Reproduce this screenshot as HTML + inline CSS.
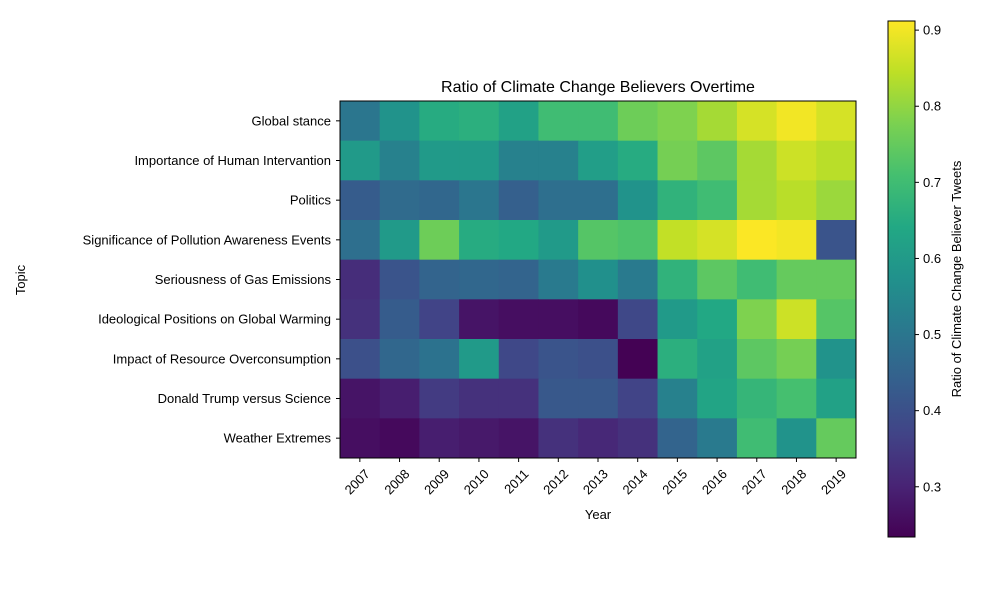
<!DOCTYPE html>
<html><head><meta charset="utf-8"><style>
body{margin:0;background:#fff;font-family:"Liberation Sans","DejaVu Sans",sans-serif;}
svg text{font-family:"Liberation Sans","DejaVu Sans",sans-serif;fill:#000;}
</style></head><body>
<svg id="chart" width="1000" height="600" xmlns="http://www.w3.org/2000/svg">
<defs><linearGradient id="vg" x1="0" y1="1" x2="0" y2="0"></linearGradient></defs>
<text x="598" y="92" font-size="16" text-anchor="middle">Ratio of Climate Change Believers Overtime</text>
<g id="cells"></g>
<rect x="340" y="101" width="516" height="357" fill="none" stroke="#000" stroke-width="1"/>
<g id="xaxis"></g>
<g id="yaxis"></g>
<text x="598" y="519" font-size="13" text-anchor="middle">Year</text>
<text transform="translate(25,280) rotate(-90)" font-size="13" text-anchor="middle">Topic</text>
<rect x="888" y="21" width="27" height="516" fill="url(#vg)" stroke="#000" stroke-width="1"/>
<g id="cbticks"></g>
<text transform="translate(961,279) rotate(-90)" font-size="13" text-anchor="middle">Ratio of Climate Change Believer Tweets</text>
</svg>
<script>
const years=["2007","2008","2009","2010","2011","2012","2013","2014","2015","2016","2017","2018","2019"];
const topics=["Global stance","Importance of Human Intervantion","Politics","Significance of Pollution Awareness Events","Seriousness of Gas Emissions","Ideological Positions on Global Warming","Impact of Resource Overconsumption","Donald Trump versus Science","Weather Extremes"];
const rowGlobal=[0.50,0.58,0.65,0.66,0.62,0.70,0.70,0.76,0.78,0.82,0.87,0.90,0.87];
const rowImportance=[0.60,0.53,0.60,0.60,0.53,0.53,0.61,0.65,0.77,0.74,0.82,0.86,0.84];
const rowPolitics=[0.43,0.47,0.46,0.50,0.44,0.48,0.48,0.58,0.67,0.70,0.82,0.84,0.81];
const rowSignificance=[0.48,0.60,0.76,0.65,0.64,0.60,0.73,0.72,0.85,0.87,0.91,0.90,0.41];
const rowSeriousness=[0.32,0.41,0.45,0.46,0.45,0.51,0.57,0.51,0.67,0.74,0.70,0.75,0.75];
const rowIdeological=[0.33,0.43,0.37,0.27,0.26,0.26,0.25,0.38,0.60,0.64,0.78,0.86,0.73];
const rowImpact=[0.40,0.46,0.49,0.60,0.38,0.41,0.40,0.235,0.66,0.62,0.74,0.77,0.58];
const rowTrump=[0.27,0.29,0.35,0.33,0.33,0.42,0.42,0.37,0.53,0.63,0.68,0.71,0.62];
const rowWeather=[0.26,0.25,0.29,0.28,0.27,0.33,0.31,0.33,0.45,0.51,0.70,0.58,0.75];
const cbTicks=[0.3,0.4,0.5,0.6,0.7,0.8,0.9];
const vmin=0.234,vmax=0.912;
const rows=[rowGlobal,rowImportance,rowPolitics,rowSignificance,rowSeriousness,rowIdeological,rowImpact,rowTrump,rowWeather];
const VIR=["#440154","#482475","#414487","#355f8d","#2a788e","#21918c","#22a884","#44bf70","#7ad151","#bddf26","#fde725"];
const NS="http://www.w3.org/2000/svg";
const X0=340,Y0=101,W=516,H=357;
const cw=W/years.length,ch=H/topics.length;
const xs=i=>X0+i*cw, ys=j=>Y0+j*ch;
const cbY=v=>537-(v-vmin)/(vmax-vmin)*516;
function hex(h){return [1,3,5].map(k=>parseInt(h.substr(k,2),16));}
function viridis(v){let t=Math.max(0,Math.min(1,(v-vmin)/(vmax-vmin)))*10;let i=Math.min(9,Math.floor(t)),f=t-i;
 const a=hex(VIR[i]),b=hex(VIR[i+1]);return "rgb("+a.map((c,k)=>Math.round(c+(b[k]-c)*f)).join(",")+")";}
function mk(tag,attrs,parent){const e=document.createElementNS(NS,tag);for(const k in attrs)e.setAttribute(k,attrs[k]);parent.appendChild(e);return e;}
const grad=document.getElementById("vg");
VIR.forEach((c,i)=>mk("stop",{offset:(i*10)+"%","stop-color":c},grad));
const cells=document.getElementById("cells");
rows.forEach((r,j)=>r.forEach((v,i)=>{
 const e=mk("rect",{x:xs(i),y:ys(j),width:cw+0.5,height:ch+0.5,fill:viridis(v)},cells);
 
 
}));
const xa=document.getElementById("xaxis");
years.forEach((y,i)=>{
 const cx=xs(i)+cw/2;
 const l=mk("line",{x1:cx,x2:cx,y1:458,y2:462,stroke:"#000"},xa);
 
 
 const t=mk("text",{transform:"translate("+(cx+4)+",468) rotate(-45)","font-size":"13","text-anchor":"end","dominant-baseline":"hanging"},xa);
 t.textContent=y;
 
 
});
const ya=document.getElementById("yaxis");
topics.forEach((s,j)=>{
 const cy=ys(j)+ch/2;
 const l=mk("line",{x1:336,x2:340,y1:cy,y2:cy,stroke:"#000"},ya);
 
 
 const t=mk("text",{x:331,y:cy+4.5,"font-size":"13","text-anchor":"end"},ya);
 t.textContent=s;
 
 
});
const cb=document.getElementById("cbticks");
cbTicks.forEach(v=>{
 const y=cbY(v);
 const l=mk("line",{x1:915,x2:919,y1:y,y2:y,stroke:"#000"},cb);
 
 
 const t=mk("text",{x:923,y:y+4.5,"font-size":"13"},cb);
 t.textContent=v.toFixed(1);
 
 
});
</script>
</body></html>
